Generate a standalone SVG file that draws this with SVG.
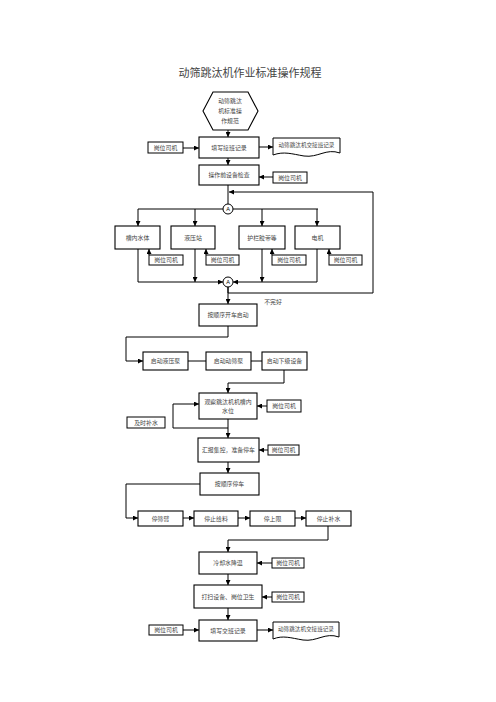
<svg xmlns="http://www.w3.org/2000/svg" width="496" height="702" viewBox="0 0 496 702">
<style>
.bx{fill:#fff;stroke:#000;stroke-width:1.1}
.sm{fill:#fff;stroke:#000;stroke-width:1}
.t{font-family:"Liberation Serif","Noto Sans CJK SC",serif;font-size:5.9px;fill:#444;text-anchor:middle;dominant-baseline:central}
.a{font-family:"Liberation Sans",sans-serif;font-size:5.5px;fill:#000;text-anchor:middle;dominant-baseline:central}
.ttl{font-family:"Liberation Serif","Noto Sans CJK SC",serif;font-size:11px;fill:#444;text-anchor:middle}
.c{fill:none;stroke:#000;stroke-width:1}
.ca{fill:none;stroke:#000;stroke-width:1;marker-end:url(#ah)}
</style>
<defs>
<marker id="ah" viewBox="0 0 10 10" refX="10" refY="5" markerWidth="5" markerHeight="5" markerUnits="userSpaceOnUse" orient="auto">
<path d="M0,0 L10,5 L0,10 Z" fill="#000"/>
</marker>
</defs>
<rect width="496" height="702" fill="#fff"/>
<text class="ttl" x="250" y="77">动筛跳汰机作业标准操作规程</text>

<g id="connectors">
<path class="ca" d="M228,130 V137"/>
<path class="ca" d="M183,148 H199"/>
<path class="ca" d="M259,147 H273"/>
<path class="ca" d="M228,158 V165"/>
<path class="ca" d="M273,177 H259"/>
<path class="c" d="M228,185 V204"/>
<path class="ca" d="M228,287 V293 H373 V192 H229"/>
<path class="c" d="M138,209 H318"/>
<path class="ca" d="M138,209 V226"/>
<path class="ca" d="M195,209 V226"/>
<path class="ca" d="M262,209 V226"/>
<path class="ca" d="M317,209 V226"/>
<path class="ca" d="M149,255 V249"/>
<path class="ca" d="M206,255 V249"/>
<path class="ca" d="M272,255 V249"/>
<path class="ca" d="M329,255 V249"/>
<path class="ca" d="M138,249 V282 H223"/>
<path class="ca" d="M317,249 V282 H233"/>
<path class="ca" d="M195,249 V282"/>
<path class="ca" d="M262,249 V282"/>
<path class="ca" d="M228,287 V304"/>
<path class="ca" d="M228,326 V337 H126 V361 H143"/>
<path class="c" d="M188,361 H206"/>
<path class="c" d="M251,361 H262"/>
<path class="ca" d="M284,370 V383 H228 V393"/>
<path class="ca" d="M267,406 H257"/>
<path class="ca" d="M228,419 V438"/>
<path class="ca" d="M228,428 H173 V404 H199"/>
<path class="ca" d="M268,450 H259"/>
<path class="ca" d="M228,462 V473"/>
<path class="ca" d="M200,484 H126 V518 H138"/>
<path class="ca" d="M183,518 H194"/>
<path class="ca" d="M238,518 H250"/>
<path class="ca" d="M295,518 H306"/>
<path class="ca" d="M328,526 V540 H228 V552"/>
<path class="ca" d="M272,563 H257"/>
<path class="ca" d="M228,574 V585"/>
<path class="ca" d="M272,597 H262"/>
<path class="ca" d="M228,608 V620"/>
<path class="ca" d="M183,630 H199"/>
<path class="ca" d="M257,630 H273"/>
<text class="t" x="273" y="302">不完好</text>
</g>

<g id="n-spec">
<polygon class="bx" points="213,92 248,92 258,111 248,130 213,130 203,111"/>
<text class="t" x="230" y="101">动筛跳汰</text>
<text class="t" x="230" y="111">机标准操</text>
<text class="t" x="230" y="121">作规范</text>
</g>
<g id="n-jieban"><rect class="bx" x="199" y="137" width="60" height="21"/><text class="t" x="229" y="147.5">填写接班记录</text></g>
<g id="n-op1"><rect class="sm" x="148" y="142" width="35" height="11"/><text class="t" x="165.5" y="147.5">岗位司机</text></g>
<g id="n-doc1"><path class="sm" d="M273,138 H340 V153 C326,148 318,158 304,156 C292,154 284,151 273,155 Z"/><text class="t" x="306.5" y="145" style="font-size:5.6px">动筛跳汰机交接班记录</text></g>
<g id="n-check"><rect class="bx" x="199" y="165" width="60" height="20"/><text class="t" x="229" y="175">操作前设备检查</text></g>
<g id="n-op2"><rect class="sm" x="273" y="172" width="34" height="11"/><text class="t" x="290" y="177.5">岗位司机</text></g>
<g id="n-a1"><circle class="sm" cx="228" cy="209" r="5"/><text class="a" x="228" y="209">A</text></g>
<g id="n-cao"><rect class="bx" x="115" y="226" width="45" height="23"/><text class="t" x="137.5" y="237.5">槽内水体</text></g>
<g id="n-ye"><rect class="bx" x="171" y="226" width="44" height="23"/><text class="t" x="193" y="237.5">液压站</text></g>
<g id="n-hu"><rect class="bx" x="239" y="226" width="46" height="23"/><text class="t" x="262" y="237.5">护栏胶带等</text></g>
<g id="n-dian"><rect class="bx" x="295" y="226" width="45" height="23"/><text class="t" x="317.5" y="237.5">电机</text></g>
<g id="n-op3"><rect class="sm" x="149" y="255" width="34" height="10"/><text class="t" x="166" y="260">岗位司机</text></g>
<g id="n-op4"><rect class="sm" x="206" y="255" width="33" height="10"/><text class="t" x="222.5" y="260">岗位司机</text></g>
<g id="n-op5"><rect class="sm" x="272" y="255" width="34" height="10"/><text class="t" x="289" y="260">岗位司机</text></g>
<g id="n-op6"><rect class="sm" x="329" y="255" width="33" height="10"/><text class="t" x="345.5" y="260">岗位司机</text></g>
<g id="n-a2"><circle class="sm" cx="228" cy="282" r="5"/><text class="a" x="228" y="282">A</text></g>
<g id="n-start"><rect class="bx" x="199" y="304" width="58" height="22"/><text class="t" x="228" y="315">按顺序开车启动</text></g>
<g id="n-s1"><rect class="bx" x="143" y="352" width="45" height="18"/><text class="t" x="165.5" y="361">启动液压泵</text></g>
<g id="n-s2"><rect class="bx" x="206" y="352" width="45" height="18"/><text class="t" x="228.5" y="361">启动动筛泵</text></g>
<g id="n-s3"><rect class="bx" x="262" y="352" width="45" height="18"/><text class="t" x="284.5" y="361">启动下级设备</text></g>
<g id="n-obs"><rect class="bx" x="199" y="393" width="58" height="26"/><text class="t" x="228" y="402">观察跳汰机机槽内</text><text class="t" x="228" y="411">水位</text></g>
<g id="n-op7"><rect class="sm" x="267" y="400" width="34" height="12"/><text class="t" x="284" y="406">岗位司机</text></g>
<g id="n-bu"><rect class="sm" x="127" y="417" width="38" height="11"/><text class="t" x="146" y="422.5">及时补水</text></g>
<g id="n-report"><rect class="bx" x="198" y="438" width="61" height="24"/><text class="t" x="228.5" y="450">汇报集控，准备停车</text></g>
<g id="n-op8"><rect class="sm" x="268" y="445" width="31" height="10"/><text class="t" x="283.5" y="450">岗位司机</text></g>
<g id="n-stop"><rect class="bx" x="200" y="473" width="59" height="22"/><text class="t" x="229.5" y="484">按顺序停车</text></g>
<g id="n-p1"><rect class="bx" x="138" y="511" width="45" height="15"/><text class="t" x="160.5" y="518.5">停筛臂</text></g>
<g id="n-p2"><rect class="bx" x="194" y="511" width="44" height="15"/><text class="t" x="216" y="518.5">停止给料</text></g>
<g id="n-p3"><rect class="bx" x="250" y="511" width="45" height="15"/><text class="t" x="272.5" y="518.5">停上限</text></g>
<g id="n-p4"><rect class="bx" x="306" y="511" width="45" height="15"/><text class="t" x="328.5" y="518.5">停止补水</text></g>
<g id="n-cool"><rect class="bx" x="199" y="552" width="58" height="22"/><text class="t" x="228" y="563">冷却水降温</text></g>
<g id="n-op9"><rect class="sm" x="272" y="558" width="32" height="10"/><text class="t" x="288" y="563">岗位司机</text></g>
<g id="n-clean"><rect class="bx" x="194" y="585" width="68" height="23"/><text class="t" x="228" y="596.5">打扫设备、岗位卫生</text></g>
<g id="n-op10"><rect class="sm" x="272" y="592" width="32" height="10"/><text class="t" x="288" y="597">岗位司机</text></g>
<g id="n-jiaoban"><rect class="bx" x="199" y="620" width="58" height="21"/><text class="t" x="228" y="630.5">填写交班记录</text></g>
<g id="n-op11"><rect class="sm" x="149" y="625" width="34" height="10"/><text class="t" x="166" y="630">岗位司机</text></g>
<g id="n-doc2"><path class="sm" d="M273,622 H339 V637 C325,632 317,642 303,640 C291,638 283,635 273,639 Z"/><text class="t" x="306" y="629" style="font-size:5.6px">动筛跳汰机交接班记录</text></g>
</svg>
